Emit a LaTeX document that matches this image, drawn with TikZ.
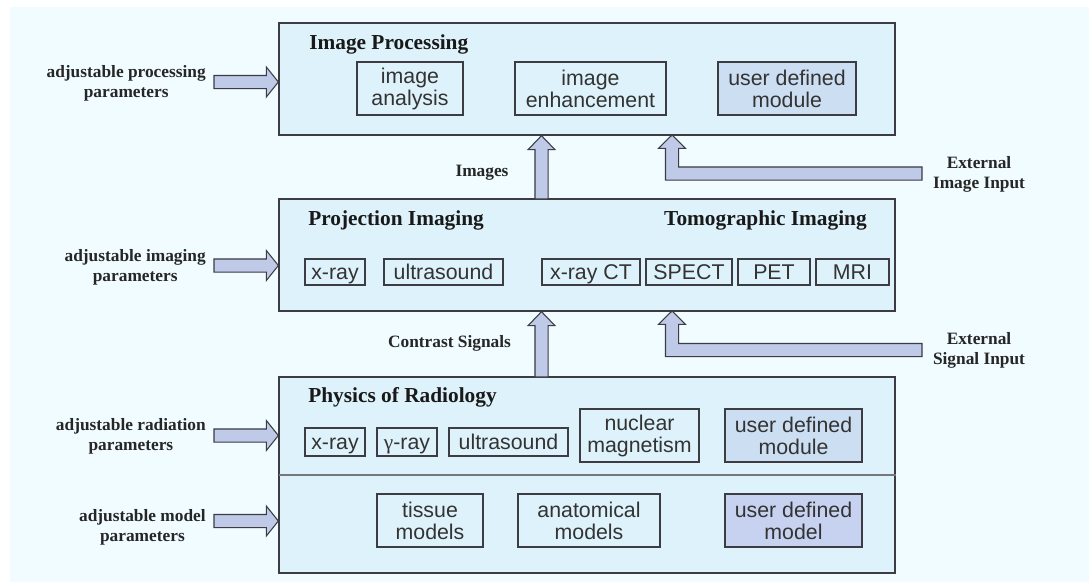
\documentclass[tikz,border=0pt]{standalone}
\usepackage{fontspec}
\setmainfont{Liberation Serif}
\setsansfont{Liberation Sans}
\usetikzlibrary{calc}

\definecolor{bgcol}{RGB}{240,252,255}
\definecolor{boxfill}{RGB}{222,242,251}
\definecolor{userfill}{RGB}{204,222,242}
\definecolor{modelfill}{RGB}{198,210,240}
\definecolor{arrowfill}{RGB}{190,202,232}
\definecolor{edgecol}{RGB}{60,60,66}

\def\pxu{0.75pt}

% block arrows: tail, tip
\newcommand{\hblock}[2]{\draw[blockarrow] let \p1=(#1), \p2=(#2) in
  (\x1,\y1-4.9pt) -- (\x2-9pt,\y1-4.9pt) -- (\x2-9pt,\y1-11.25pt) -- (\x2,\y1)
  -- (\x2-9pt,\y1+11.25pt) -- (\x2-9pt,\y1+4.9pt) -- (\x1,\y1+4.9pt) -- cycle;}
\newcommand{\vblock}[2]{\draw[blockarrow] let \p1=(#1), \p2=(#2) in
  (\x1-4.9pt,\y1) -- (\x1-4.9pt,\y2-10.5pt) -- (\x1-10.1pt,\y2-10.5pt) -- (\x1,\y2)
  -- (\x1+10.1pt,\y2-10.5pt) -- (\x1+4.9pt,\y2-10.5pt) -- (\x1+4.9pt,\y1) -- cycle;}
\newcommand{\lblock}[2]{\draw[blockarrow] let \p1=(#1), \p2=(#2) in
  (\x1,\y1+4.9pt) -- (\x2+4.9pt,\y1+4.9pt) -- (\x2+4.9pt,\y2-10pt) -- (\x2+10.1pt,\y2-10pt)
  -- (\x2,\y2) -- (\x2-10.1pt,\y2-10pt) -- (\x2-4.9pt,\y2-10pt) -- (\x2-4.9pt,\y1-4.9pt)
  -- (\x1,\y1-4.9pt) -- cycle;}

\begin{document}
\begin{tikzpicture}[x=\pxu, y=-\pxu]
        \tikzstyle{layer}=[draw=edgecol, line width=1pt, fill=boxfill, inner sep=0pt]
        \tikzstyle{mod}=[draw=edgecol, line width=0.9pt, fill=boxfill, inner sep=0pt, align=center, text=black!80, font=\sffamily\fontsize{16}{16.5}\selectfont]
        \tikzstyle{single}=[draw=edgecol, line width=0.9pt, fill=boxfill, inner sep=0pt, text=black!80, font=\sffamily\fontsize{16}{16.5}\selectfont, text height=14pt, text depth=3pt]
        \tikzstyle{title}=[inner sep=0pt, text=black!90, font=\bfseries\fontsize{16}{19}\selectfont]
        \tikzstyle{annot}=[inner sep=0pt, align=center, text=black!85, font=\bfseries\fontsize{13}{15}\selectfont]
        \tikzstyle{blockarrow}=[draw=edgecol, line width=0.8pt, fill=arrowfill, line join=miter]

        \useasboundingbox (0,0) rectangle (1089,582);
        \fill[bgcol] (10,7) rectangle (1089,582);

        % layers
        \node[layer, minimum width=616*\pxu, minimum height=112*\pxu] (proc) at (587,79) {};
        \node[layer, minimum width=616*\pxu, minimum height=112*\pxu] (imag) at (587,255) {};
        \node[layer, minimum width=616*\pxu, minimum height=196*\pxu] (phys) at (587,475) {};
        \coordinate (div) at (279,475);
        \draw[edgecol!70, line width=1pt] (div) -- (div -| phys.east);

        \node[title, anchor=base west] (proc-t) at (309,49) {Image Processing};
        \node[title, anchor=base west] (imag-t) at (308,225) {Projection Imaging};
        \node[title, anchor=base east] (tomo-t) at (867,225) {Tomographic Imaging};
        \node[title, anchor=base west] (phys-t) at (308,402) {Physics of Radiology};

        % image processing modules
        \node[mod, minimum width=106*\pxu, minimum height=53*\pxu] (IP-1) at (410,88.5) {image\\analysis};
        \node[mod, minimum width=151*\pxu, minimum height=53*\pxu] (IP-2) at (590.5,88.5) {image\\enhancement};
        \node[mod, fill=userfill, minimum width=138*\pxu, minimum height=53*\pxu] (IP-3) at (787,88.5) {user defined\\module};

        % imaging modalities
        \node[single, minimum width=60*\pxu, minimum height=26*\pxu] (PI-1) at (335,272) {x-ray};
        \node[single, minimum width=119*\pxu, minimum height=26*\pxu] (PI-2) at (443.5,272) {ultrasound};
        \node[single, minimum width=98*\pxu, minimum height=26*\pxu] (TI-1) at (591,272) {x-ray CT};
        \node[single, minimum width=86*\pxu, minimum height=26*\pxu] (TI-2) at (689,272) {SPECT};
        \node[single, minimum width=72*\pxu, minimum height=26*\pxu] (TI-3) at (774,272) {PET};
        \node[single, minimum width=73*\pxu, minimum height=26*\pxu] (TI-4) at (852.5,272) {MRI};

        % radiation sources
        \node[single, minimum width=60*\pxu, minimum height=28*\pxu] (PR-1) at (335,442) {x-ray};
        \node[single, minimum width=60*\pxu, minimum height=28*\pxu] (PR-2) at (407,442) {{\rmfamily γ}-ray};
        \node[single, minimum width=119*\pxu, minimum height=28*\pxu] (PR-3) at (508.5,442) {ultrasound};
        \node[mod, minimum width=119*\pxu, minimum height=53*\pxu] (PR-4) at (639.5,435.5) {nuclear\\magnetism};
        \node[mod, fill=userfill, minimum width=137*\pxu, minimum height=53*\pxu] (PR-5) at (793.5,435.5) {user defined\\module};

        % models
        \node[mod, minimum width=106*\pxu, minimum height=53*\pxu] (MD-1) at (430,520.5) {tissue\\models};
        \node[mod, minimum width=142*\pxu, minimum height=53*\pxu] (MD-2) at (589,520.5) {anatomical\\models};
        \node[mod, fill=modelfill, minimum width=137*\pxu, minimum height=53*\pxu] (MD-3) at (793.5,520.5) {user defined\\model};

        % parameter inputs
        \node[annot, anchor=east] (L-1) at (206,83) {adjustable processing\\parameters};
        \node[annot, anchor=east] (L-2) at (206,267) {adjustable imaging\\parameters};
        \node[annot, anchor=east] (L-3) at (206,436) {adjustable radiation\\parameters};
        \node[annot, anchor=east] (L-4) at (206,527) {adjustable model\\parameters};
        \coordinate (A-1) at (214,82);
        \coordinate (A-2) at (214,265.5);
        \coordinate (A-3) at (214,435.5);
        \coordinate (A-4) at (214,521);
        \hblock{A-1}{A-1 -| proc.west}
        \hblock{A-2}{A-2 -| imag.west}
        \hblock{A-3}{A-3 -| phys.west}
        \hblock{A-4}{A-4 -| phys.west}

        % data flow
        \node[annot, anchor=base] (images) at (482,176) {Images};
        \node[annot, anchor=base] (signals) at (449.5,347) {Contrast Signals};
        \coordinate (U-1) at (541.5,199);
        \coordinate (U-2) at (541.5,377);
        \vblock{U-1}{U-1 |- proc.south}
        \vblock{U-2}{U-2 |- imag.south}

        % external inputs
        \node[annot] (ext-img) at (979,174) {External\\Image Input};
        \node[annot] (ext-sig) at (979,350.5) {External\\Signal Input};
        \coordinate (E-1) at (922,173.5);
        \coordinate (E-2) at (922,350);
        \coordinate (T-1) at (672,135);
        \coordinate (T-2) at (672,311);
        \lblock{E-1}{T-1}
        \lblock{E-2}{T-2}
\end{tikzpicture}
\end{document}
